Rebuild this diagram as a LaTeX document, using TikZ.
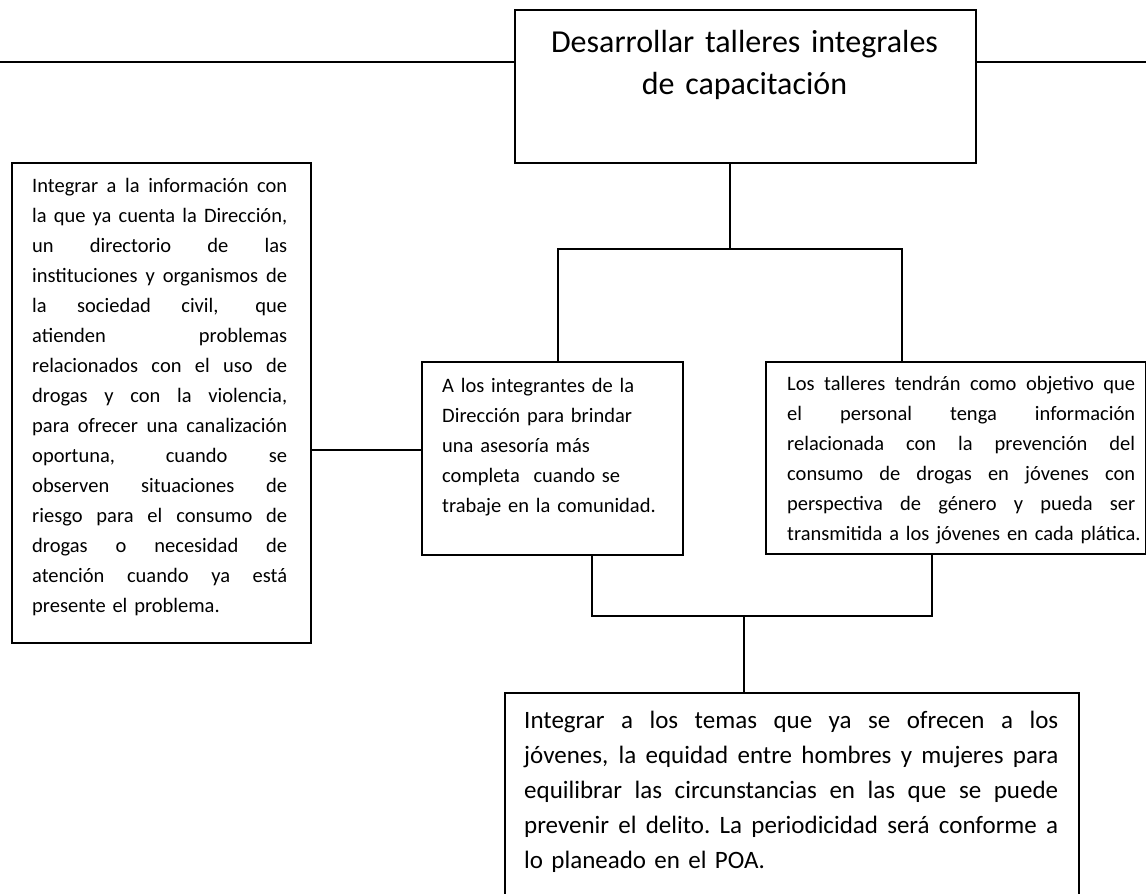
\documentclass[tikz,border=0pt]{standalone}
\usepackage{fontspec}
\setmainfont{Carlito}
\usetikzlibrary{calc}
\newcommand\jline[2]{\makebox[#1][s]{\spaceskip=0.226em plus 1fil\relax\xspaceskip=0.226em plus 1fil\relax #2}}
\tikzset{
  box/.style={draw=black, line width=1.6pt, rectangle, inner sep=0pt, anchor=north west},
  link/.style={draw=black, line width=1.6pt},
  small/.style={inner sep=0pt, anchor=base west, text width=#1, align=left,
    font=\fontsize{20.5}{30}\selectfont},
  big/.style={inner sep=0pt, anchor=base west, text width=#1, align=left,
    font=\fontsize{25}{35}\selectfont},
  title/.style={inner sep=0pt, anchor=base, text width=#1, align=center, font=\fontsize{32}{43}\selectfont},
}
\begin{document}
\begin{tikzpicture}[x=1pt,y=-1pt]
\useasboundingbox (0,0) rectangle (1146,894);
% boxes
\node[box, minimum width=461pt, minimum height=153pt] (top) at (514,9) {};
\node[box, minimum width=299pt, minimum height=480pt] (left) at (11,162) {};
\node[box, minimum width=261pt, minimum height=193pt] (mid) at (421,361) {};
\node[box, minimum width=380pt, minimum height=192pt] (right) at (765,361) {};
\node[box, minimum width=574pt, minimum height=212pt] (bottom) at (504,692) {};
% texts
\node[title=440pt] (toptext) at (744.5,52) {Desarrollar talleres integrales\\de capacitación};
\node[small=256pt] (lefttext) at (32,192) {%
\jline{255pt}{Integrar a la información con}\\
\jline{255pt}{la que ya cuenta la Dirección,}\\
\jline{255pt}{un directorio de las}\\
\jline{255pt}{instituciones y organismos de}\\
\jline{255pt}{la sociedad civil, que}\\
\jline{255pt}{atienden problemas}\\
\jline{255pt}{relacionados con el uso de}\\
\jline{255pt}{drogas y con la violencia,}\\
\jline{255pt}{para ofrecer una canalización}\\
\jline{255pt}{oportuna, cuando se}\\
\jline{255pt}{observen situaciones de}\\
\jline{255pt}{riesgo para el consumo de}\\
\jline{255pt}{drogas o necesidad de}\\
\jline{255pt}{atención cuando ya está}\\
\mbox{presente el problema.}};
\node[small=230pt] (midtext) at (442,392) {\mbox{A los integrantes de la}\\\mbox{Dirección para brindar}\\\mbox{una asesoría más}\\\mbox{completa\ \ cuando se}\\\mbox{trabaje en la comunidad.}};
\node[small=350pt] (righttext) at (787,390) {%
\jline{348pt}{Los talleres tendrán como objetivo que}\\
\jline{348pt}{el personal tenga información}\\
\jline{348pt}{relacionada con la prevención del}\\
\jline{348pt}{consumo de drogas en jóvenes con}\\
\jline{348pt}{perspectiva de género y pueda ser}\\
\mbox{transmitida a los jóvenes en cada plática.}};
\node[big=536pt] (bottomtext) at (524,728) {%
\jline{534pt}{Integrar a los temas que ya se ofrecen a los}\\
\jline{534pt}{jóvenes, la equidad entre hombres y mujeres para}\\
\jline{534pt}{equilibrar las circunstancias en las que se puede}\\
\jline{534pt}{prevenir el delito. La periodicidad será conforme a}\\
\mbox{lo planeado en el POA.}};
% connectors
\coordinate (eL) at (0,62);
\coordinate (eR) at (1146,62);
\draw[link] (eL) -- (eL -| top.west);
\draw[link] (top.east |- eR) -- (eR);
\coordinate (j1) at (730,249);
\coordinate (jl) at (558,249);
\coordinate (jr) at (902,249);
\draw[link] (top.south -| j1) -- (j1);
\draw[link] (mid.north -| jl) -- (jl) -- (jr) -- (right.north -| jr);
\coordinate (jm) at (0,450);
\draw[link] (left.east |- jm) -- (mid.west |- jm);
\coordinate (b1) at (592,616);
\coordinate (b2) at (932,616);
\coordinate (b3) at (744,616);
\draw[link] (mid.south -| b1) -- (b1) -- (b2) -- (right.south -| b2);
\draw[link] (b3) -- (bottom.north -| b3);
\end{tikzpicture}
\end{document}
